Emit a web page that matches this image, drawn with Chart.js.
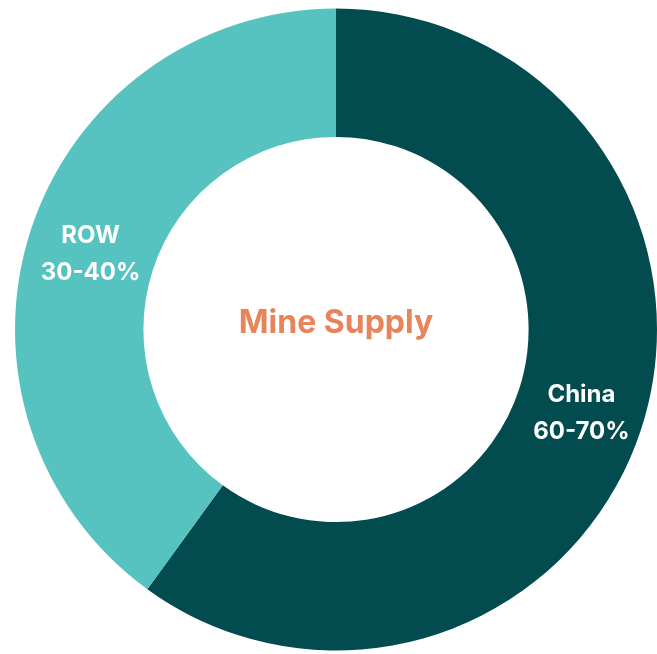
<!DOCTYPE html>
<html>
<head>
<meta charset="utf-8">
<script src="https://cdn.jsdelivr.net/npm/chart.js@4/dist/chart.umd.min.js"></script>
<style>
    html, body { margin: 0; padding: 0; background: #fff; }
    #wrap { width: 657px; height: 654px; position: relative; }
</style>
</head>
<body>
<div id="wrap"><canvas id="supplyChart"></canvas></div>
<script>
// Chart data
const regions = ['China', 'ROW'];
const shares = [60, 40];
const shareLabels = ['60-70%', '30-40%'];
const sliceColors = ['#024B4E', '#56C3C1'];
const centerTitle = 'Mine Supply';

// Draws the region name + range inside each slice, and the title in the hole
const labelPlugin = {
    id: 'sliceLabels',
    afterDatasetsDraw(chart) {
        const ctx = chart.ctx;
        const meta = chart.getDatasetMeta(0);
        ctx.save();
        ctx.textAlign = 'center';
        ctx.textBaseline = 'middle';
        ctx.fillStyle = '#ffffff';
        ctx.font = 'bold 24px Inter, "Open Sans", sans-serif';
        meta.data.forEach((arc, i) => {
            const mid = (arc.startAngle + arc.endAngle) / 2;
            const r = arc.innerRadius + (arc.outerRadius - arc.innerRadius) * 0.51;
            const x = arc.x + Math.cos(mid) * r;
            const y = arc.y + Math.sin(mid) * r;
            ctx.fillText(regions[i], x, y - 14);
            ctx.fillText(shareLabels[i], x, y + 23);
        });
        const first = meta.data[0];
        ctx.fillStyle = '#E9835A';
        ctx.font = 'bold 32px Inter, "Open Sans", sans-serif';
        ctx.fillText(centerTitle, first.x, first.y - 6);
        ctx.restore();
    }
};

const supplyCtx = document.getElementById('supplyChart').getContext('2d');
new Chart(supplyCtx, {
    type: 'doughnut',
    data: {
        labels: regions,
        datasets: [{
            data: shares,
            backgroundColor: sliceColors,
            borderWidth: 0,
            hoverOffset: 0
        }]
    },
    options: {
        responsive: true,
        maintainAspectRatio: false,
        animation: false,
        cutout: '60%',
        layout: {
            padding: { left: 15, right: 0, top: 8, bottom: 3 }
        },
        plugins: {
            legend: { display: false },
            tooltip: { enabled: false }
        }
    },
    plugins: [labelPlugin]
});
</script>
</body>
</html>
